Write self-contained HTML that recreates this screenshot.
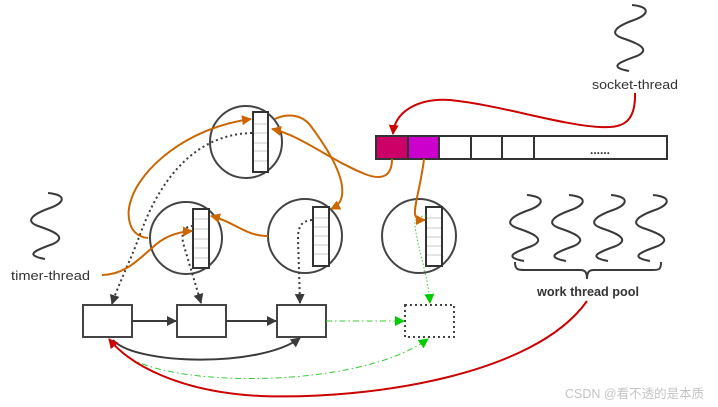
<!DOCTYPE html>
<html><head><meta charset="utf-8"><style>
html,body{margin:0;padding:0;background:#fff;}
svg{display:block;}
text{font-family:"Liberation Sans","DejaVu Sans",sans-serif;}
</style></head><body>
<svg width="718" height="407" viewBox="0 0 718 407" xmlns="http://www.w3.org/2000/svg">
<defs>
<marker id="aD" markerWidth="10" markerHeight="10" refX="9" refY="5" orient="auto" markerUnits="userSpaceOnUse"><path d="M0,0 L10,5 L0,10 Z" fill="#3a3a3a"/></marker>
<marker id="aO" markerWidth="10" markerHeight="10" refX="9" refY="5" orient="auto" markerUnits="userSpaceOnUse"><path d="M0,0 L10,5 L0,10 Z" fill="#cc6600"/></marker>
<marker id="aR" markerWidth="10" markerHeight="10" refX="9" refY="5" orient="auto" markerUnits="userSpaceOnUse"><path d="M0,0 L10,5 L0,10 Z" fill="#cc0000"/></marker>
<marker id="aG" markerWidth="10" markerHeight="10" refX="9" refY="5" orient="auto" markerUnits="userSpaceOnUse"><path d="M0,0 L10,5 L0,10 Z" fill="#00cc00"/></marker>
<path id="wave" d="M20 0 C40 2, 36 10, 22 15 C5 21, -4 28, 10 33 C25 38, 40 44, 25 51 C8 57, -5 62, 17 66" fill="none" stroke="#3a3a3a" stroke-width="2"/>
</defs>

<!-- circles -->
<g fill="none" stroke="#444" stroke-width="2">
<circle cx="246" cy="142" r="36"/>
<circle cx="186" cy="238" r="36"/>
<circle cx="305" cy="236" r="37"/>
<circle cx="419" cy="236" r="37"/>
</g>

<!-- queues -->
<g stroke="#333" stroke-width="2" fill="#fff">
<rect x="253" y="112" width="15" height="60"/>
<rect x="193" y="209" width="16" height="59"/>
<rect x="313" y="207" width="16" height="59"/>
<rect x="426" y="207" width="16" height="59"/>
</g>
<g stroke="#c8c8c8" stroke-width="1">
<line x1="254" y1="124" x2="267" y2="124"/><line x1="254" y1="133" x2="267" y2="133"/><line x1="254" y1="143" x2="267" y2="143"/><line x1="254" y1="151" x2="267" y2="151"/><line x1="254" y1="161" x2="267" y2="161"/>
<line x1="194" y1="219" x2="208" y2="219"/><line x1="194" y1="229" x2="208" y2="229"/><line x1="194" y1="239" x2="208" y2="239"/><line x1="194" y1="248" x2="208" y2="248"/><line x1="194" y1="258" x2="208" y2="258"/>
<line x1="314" y1="218" x2="328" y2="218"/><line x1="314" y1="227" x2="328" y2="227"/><line x1="314" y1="236" x2="328" y2="236"/><line x1="314" y1="245" x2="328" y2="245"/><line x1="314" y1="254" x2="328" y2="254"/>
<line x1="427" y1="218" x2="441" y2="218"/><line x1="427" y1="228" x2="441" y2="228"/><line x1="427" y1="237" x2="441" y2="237"/><line x1="427" y1="246" x2="441" y2="246"/><line x1="427" y1="255" x2="441" y2="255"/>
</g>

<!-- socket bar -->
<g stroke="#333" stroke-width="2">
<rect x="376" y="136" width="32" height="23" fill="#cc0066"/>
<rect x="408" y="136" width="31" height="23" fill="#cc00cc"/>
<rect x="439" y="136" width="32" height="23" fill="#fff"/>
<rect x="471" y="136" width="31" height="23" fill="#fff"/>
<rect x="502" y="136" width="32" height="23" fill="#fff"/>
<rect x="534" y="136" width="133" height="23" fill="#fff"/>
</g>
<text x="600" y="154" font-size="12" fill="#333" text-anchor="middle" font-weight="bold">......</text>

<!-- waves -->
<use href="#wave" transform="translate(612,5)"/>
<use href="#wave" transform="translate(28,193)"/>
<use href="#wave" transform="translate(507,195)"/>
<use href="#wave" transform="translate(549,195)"/>
<use href="#wave" transform="translate(591,195)"/>
<use href="#wave" transform="translate(633,195)"/>

<!-- brace -->
<path d="M515 262 C515 270, 518 270, 525 270 L580 270 C585 270, 587 272, 587 279 C587 272, 589 270, 594 270 L652 270 C659 270, 661 270, 661 262" fill="none" stroke="#3a3a3a" stroke-width="2"/>

<!-- labels -->
<text x="592" y="89" font-size="12.5" fill="#333" textLength="86" lengthAdjust="spacingAndGlyphs">socket-thread</text>
<text x="11" y="280" font-size="12.5" fill="#333" textLength="79" lengthAdjust="spacingAndGlyphs">timer-thread</text>
<text x="537" y="296" font-size="12.5" fill="#333" font-weight="bold" textLength="102" lengthAdjust="spacingAndGlyphs">work thread pool</text>

<!-- bottom nodes -->
<g stroke="#444" stroke-width="2" fill="#fff">
<rect x="83" y="305" width="49" height="32"/>
<rect x="177" y="305" width="49" height="32"/>
<rect x="277" y="305" width="49" height="32"/>
</g>
<rect x="405" y="305" width="49" height="32" fill="#fff" stroke="#444" stroke-width="2" stroke-dasharray="2,3"/>

<!-- solid dark arrows -->
<g fill="none" stroke="#3a3a3a" stroke-width="2">
<line x1="132" y1="321" x2="176" y2="321" marker-end="url(#aD)"/>
<line x1="226" y1="321" x2="276" y2="321" marker-end="url(#aD)"/>
<path d="M113 340 C135 365, 260 368, 300 338" marker-end="url(#aD)"/>
</g>

<!-- dotted dark -->
<g fill="none" stroke="#3a3a3a" stroke-width="2" stroke-dasharray="2,3">
<path d="M252 133 C198 134, 162 175, 141 232 C130 262, 118 285, 112 304" marker-end="url(#aD)"/>
<path d="M193 226 C182 226, 181 236, 184 246 L201 303" marker-end="url(#aD)"/>
<path d="M312 220 C300 221, 298 228, 298 240 L300 303" marker-end="url(#aD)"/>
</g>

<!-- green -->
<g fill="none" stroke="#33cc33" stroke-width="1">
<path d="M426 216 C418 216, 414 219, 415 226 C418 250, 428 275, 430 303" stroke-dasharray="1.5,2" marker-end="url(#aG)"/>
<path d="M326 321 L404 321" stroke-dasharray="6,3,1.5,3" marker-end="url(#aG)"/>
<path d="M130 358 C180 388, 360 388, 428 339" stroke-dasharray="6,3,1.5,3" marker-end="url(#aG)"/>
</g>

<!-- orange -->
<g fill="none" stroke="#cc6600" stroke-width="2">
<path d="M392 159 C392 178, 380 180, 365 174 C330 160, 300 135, 272 129" marker-end="url(#aO)"/>
<path d="M424 159 C421 185, 414 205, 415 214 C416 219, 419 220, 425 220" marker-end="url(#aO)"/>
<path d="M275 119 C285 114, 300 113, 310 125 C325 145, 345 175, 342 195 C341 203, 337 206, 331 209" marker-end="url(#aO)"/>
<path d="M268 236 C245 236, 235 222, 211 216" marker-end="url(#aO)"/>
<path d="M102 275 C125 275, 140 258, 152 248 C162 238, 175 232, 192 231" marker-end="url(#aO)"/>
<path d="M148 238 C128 236, 126 215, 131 200 C140 170, 185 128, 251 119" marker-end="url(#aO)"/>
</g>

<!-- red -->
<g fill="none" stroke="#cc0000" stroke-width="2">
<path d="M635 93 C636 125, 620 128, 600 127 C560 125, 500 105, 450 100 C420 98, 395 110, 393 134" marker-end="url(#aR)"/>
<path d="M587 301 C535 375, 370 400, 260 396 C180 392, 130 365, 109 339" marker-end="url(#aR)"/>
</g>

<text x="565" y="398" font-size="12.5" fill="#c4c4c4" font-family="Liberation Sans, Noto Sans CJK SC, sans-serif">CSDN @看不透的是本质</text>
</svg>
</body></html>
